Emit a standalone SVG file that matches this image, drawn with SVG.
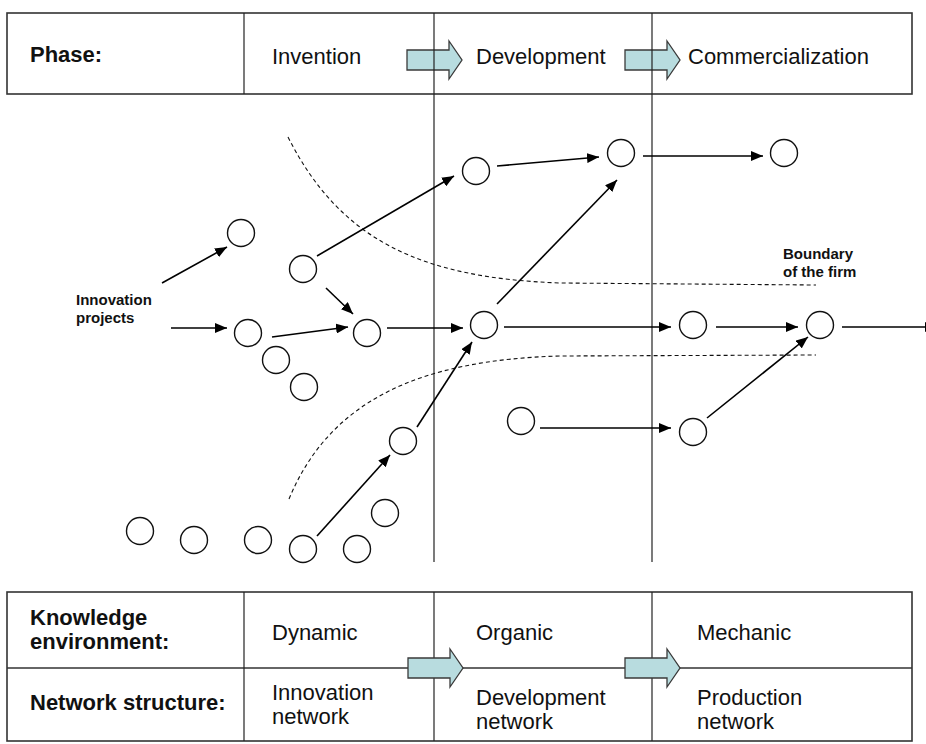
<svg xmlns="http://www.w3.org/2000/svg" width="926" height="744" viewBox="0 0 926 744">
<style>
.tbl{fill:none;stroke:#333;stroke-width:1.6}
.div{stroke:#222;stroke-width:1.2}
.t{font-family:"Liberation Sans",Arial,sans-serif;font-size:22px;fill:#111}
.b{font-family:"Liberation Sans",Arial,sans-serif;font-size:22px;font-weight:bold;fill:#111}
.s{font-family:"Liberation Sans",Arial,sans-serif;font-size:15px;font-weight:bold;fill:#111}
.bar{fill:#b8dcdf;stroke:#3a3a3a;stroke-width:1.3}
.n{fill:#fff;stroke:#111;stroke-width:1.4}
.c{fill:none;stroke:#000;stroke-width:1.6;marker-end:url(#ah)}
.d{fill:none;stroke:#111;stroke-width:1.1;stroke-dasharray:4 3}
</style>
<defs>
<marker id="ah" markerUnits="userSpaceOnUse" markerWidth="12" markerHeight="10" refX="12" refY="5" orient="auto">
<path d="M0,0 L12,5 L0,10 z" fill="#000"/>
</marker>
<polygon id="bigArrow" points="0,-10 42,-10 42,-19 55,0 42,19 42,10 0,10"/>
</defs>
<rect width="926" height="744" fill="#fff"/>

<g id="top-table">
<rect class="tbl" x="7" y="13" width="905" height="81"/>
<line class="div" x1="244" y1="13" x2="244" y2="94"/>
<text class="b" x="30" y="62">Phase:</text>
<text class="t" x="272" y="64">Invention</text>
<text class="t" x="476" y="64">Development</text>
<text class="t" x="688" y="64">Commercialization</text>
<use href="#bigArrow" class="bar" x="407" y="60"/>
<use href="#bigArrow" class="bar" x="625" y="60"/>
</g>

<g id="bottom-table">
<rect class="tbl" x="7" y="592" width="905" height="149"/>
<line class="tbl" x1="7" y1="668" x2="912" y2="668"/>
<line class="div" x1="244" y1="592" x2="244" y2="741"/>
<line class="div" x1="434" y1="592" x2="434" y2="741"/>
<line class="div" x1="652" y1="592" x2="652" y2="741"/>
<text class="b" x="30" y="625">Knowledge</text>
<text class="b" x="30" y="649">environment:</text>
<text class="b" x="30" y="710">Network structure:</text>
<text class="t" x="272" y="640">Dynamic</text>
<text class="t" x="476" y="640">Organic</text>
<text class="t" x="697" y="640">Mechanic</text>
<text class="t" x="272" y="700">Innovation</text>
<text class="t" x="272" y="724">network</text>
<text class="t" x="476" y="705">Development</text>
<text class="t" x="476" y="729">network</text>
<text class="t" x="697" y="705">Production</text>
<text class="t" x="697" y="729">network</text>
<use href="#bigArrow" class="bar" x="408" y="668"/>
<use href="#bigArrow" class="bar" x="625" y="668"/>
</g>

<g id="phase-lines">
<line class="div" x1="434" y1="13" x2="434" y2="562"/>
<line class="div" x1="652" y1="13" x2="652" y2="562"/>
</g>

<g id="boundary">
<path class="d" d="M288,137 C340,240 420,278 560,283 L816,285"/>
<path class="d" d="M289,499 C330,400 420,360 560,356 L816,355"/>
<text class="s" x="783" y="259">Boundary</text>
<text class="s" x="783" y="277">of the firm</text>
</g>

<g id="label-innovation-projects">
<text class="s" x="76" y="305">Innovation</text>
<text class="s" x="76" y="323">projects</text>
</g>

<g id="nodes">
<circle id="n1" class="n" cx="241" cy="233" r="13.5"/>
<circle id="n2" class="n" cx="303" cy="269" r="13.5"/>
<circle id="n3" class="n" cx="248" cy="333" r="13.5"/>
<circle id="n4" class="n" cx="367" cy="333" r="13.5"/>
<circle id="n5" class="n" cx="276" cy="360" r="13.5"/>
<circle id="n6" class="n" cx="304" cy="387" r="13.5"/>
<circle id="n7" class="n" cx="476" cy="171" r="13.5"/>
<circle id="n8" class="n" cx="621" cy="153" r="13.5"/>
<circle id="n9" class="n" cx="784" cy="153" r="13.5"/>
<circle id="n10" class="n" cx="484" cy="325" r="13.5"/>
<circle id="n11" class="n" cx="693" cy="325" r="13.5"/>
<circle id="n12" class="n" cx="820" cy="325" r="13.5"/>
<circle id="n13" class="n" cx="521" cy="421" r="13.5"/>
<circle id="n14" class="n" cx="693" cy="432" r="13.5"/>
<circle id="n15" class="n" cx="403" cy="441" r="13.5"/>
<circle id="n16" class="n" cx="140" cy="531" r="13.5"/>
<circle id="n17" class="n" cx="194" cy="540" r="13.5"/>
<circle id="n18" class="n" cx="258" cy="540" r="13.5"/>
<circle id="n19" class="n" cx="303" cy="549" r="13.5"/>
<circle id="n20" class="n" cx="357" cy="549" r="13.5"/>
<circle id="n21" class="n" cx="385" cy="513" r="13.5"/>
</g>

<g id="connectors">
<path class="c" d="M162,283 L227,247"/>
<path class="c" d="M171,328 L227,328"/>
<path class="c" d="M272,337 L348,327"/>
<path class="c" d="M326,288 L353,314"/>
<path class="c" d="M317,256 L454,176"/>
<path class="c" d="M497,166 L599,157"/>
<path class="c" d="M643,156 L763,156"/>
<path class="c" d="M497,304 L617,180"/>
<path class="c" d="M387,328 L463,328"/>
<path class="c" d="M504,327 L671,327"/>
<path class="c" d="M716,327 L798,327"/>
<path class="c" d="M842,327 L937,327"/>
<path class="c" d="M707,418 L808,337"/>
<path class="c" d="M540,428 L671,428"/>
<path class="c" d="M317,536 L390,455"/>
<path class="c" d="M417,427 L472,342"/>
</g>
</svg>
